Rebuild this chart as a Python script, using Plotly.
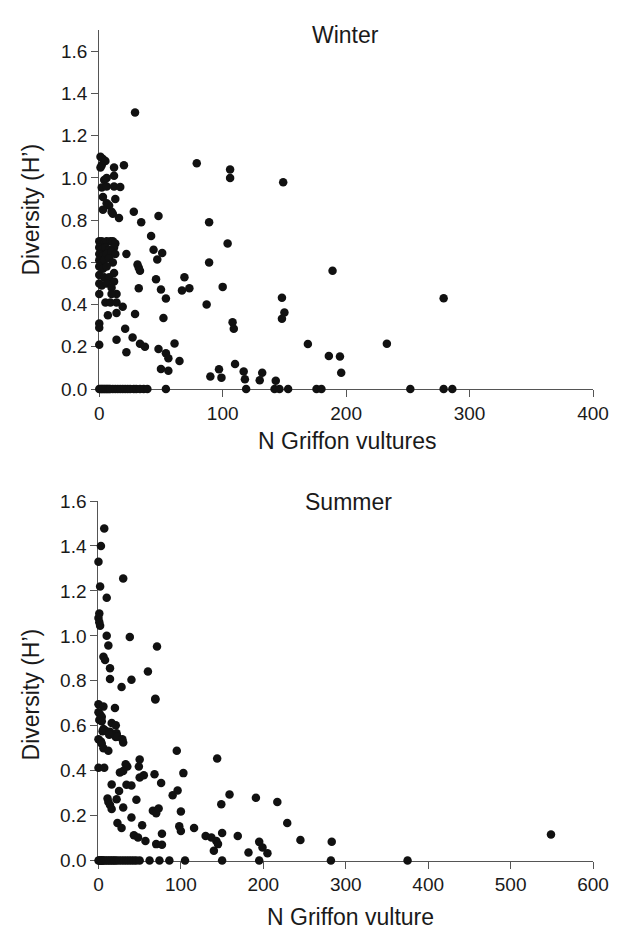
import plotly.graph_objects as go

# Winter: number of Griffon vultures vs. diversity (H')
winter_n = [
    29, 1, 3, 5, 2, 1, 12, 20,
    12, 4, 6, 2, 6, 12, 17,
    3, 6, 8, 13, 3, 10, 11,
    16, 28, 34, 48, 42,
    79, 106, 106, 149, 89, 104, 89,
    0, 1, 2, 4, 6, 9, 11, 13,
    0, 2, 5, 8, 12,
    0, 3, 6, 10, 13,
    0, 2, 4, 8, 11,
    0, 3, 6, 12,
    0, 4, 8, 12,
    0, 2, 6, 10, 14, 10,
    22, 44, 51, 47, 31, 32, 33,
    46, 69, 32, 50, 67, 73, 54, 100, 87,
    0, 5, 9, 14, 19, 7, 14, 29, 52,
    0, 0, 21, 14, 27, 0, 33, 37, 22, 48, 61, 54, 56, 65, 50, 56,
    108, 109, 148, 150, 148, 169, 189, 279, 233, 186, 195, 196,
    97, 90, 99, 110, 117, 118, 132, 130, 143,
    0, 1, 2, 3, 4, 5, 6, 7, 8, 9, 11, 13, 15, 17, 19, 21, 23, 25, 28, 30,
    33, 36, 39, 54, 119, 142, 146, 153, 176, 180, 252, 279, 286,
]
winter_h = [
    1.31, 1.10, 1.09, 1.08, 1.06, 1.05, 1.05, 1.06,
    1.01, 0.99, 1.00, 0.955, 0.96, 0.96, 0.957,
    0.91, 0.88, 0.87, 0.90, 0.85, 0.84, 0.83,
    0.81, 0.84, 0.79, 0.82, 0.725,
    1.07, 1.04, 1.00, 0.98, 0.79, 0.69, 0.60,
    0.70, 0.69, 0.70, 0.69, 0.70, 0.70, 0.70, 0.69,
    0.67, 0.66, 0.67, 0.66, 0.67,
    0.64, 0.63, 0.64, 0.65, 0.64,
    0.61, 0.60, 0.61, 0.62, 0.60,
    0.58, 0.57, 0.58, 0.55,
    0.54, 0.53, 0.53, 0.51,
    0.50, 0.49, 0.50, 0.48, 0.45, 0.45,
    0.64, 0.66, 0.645, 0.614, 0.59, 0.575, 0.56,
    0.52, 0.53, 0.478, 0.472, 0.467, 0.478, 0.429, 0.484, 0.40,
    0.45, 0.41, 0.41, 0.41, 0.39, 0.35, 0.36, 0.356, 0.336,
    0.31, 0.29, 0.285, 0.233, 0.244, 0.21, 0.215, 0.20, 0.174, 0.19, 0.216, 0.17, 0.146, 0.133, 0.095, 0.087,
    0.316, 0.285, 0.433, 0.362, 0.333, 0.213, 0.56, 0.43, 0.215, 0.156, 0.154, 0.077,
    0.094, 0.059, 0.054, 0.119, 0.083, 0.046, 0.077, 0.042, 0.039,
    0, 0, 0, 0, 0, 0, 0, 0, 0, 0, 0, 0, 0, 0, 0, 0, 0, 0, 0, 0,
    0, 0, 0, 0, 0, 0, 0, 0, 0, 0, 0, 0, 0,
]

# Summer: number of Griffon vultures vs. diversity (H')
summer_n = [
    7, 3, 0, 2, 10, 30, 1, 0, 1, 2,
    10, 12, 38, 71, 6, 8, 14, 14, 60, 40, 28, 69, 69,
    0, 6, 20, 0, 2, 4, 1, 4, 16, 21, 6, 8, 5,
    14, 22, 13, 21, 23, 29, 30, 0, 3, 4, 6, 12,
    0, 7, 95, 144, 103, 68, 76, 50, 49, 50, 55,
    33, 35, 30, 26, 16, 34, 40, 25, 46, 11, 12, 14, 16, 22, 30,
    90, 96, 159, 191, 217, 149, 66, 70, 73, 100, 40, 23, 28, 53, 229,
    98, 100, 116, 77, 43, 48, 57, 130, 137, 143, 150, 145, 140, 169, 245,
    182, 195, 199, 205, 70, 77, 283, 549,
    0, 1, 2, 3, 4, 5, 6, 8, 10, 12, 14, 16, 18, 20, 22, 25, 28, 31, 34, 37,
    40, 43, 46, 50, 62, 74, 86, 105, 150, 195, 282, 375,
]
summer_h = [
    1.478, 1.40, 1.33, 1.22, 1.17, 1.255, 1.10, 1.08, 1.06, 1.045,
    1.00, 0.957, 0.995, 0.953, 0.907, 0.892, 0.856, 0.808, 0.841, 0.805, 0.772, 0.717, 0.72,
    0.696, 0.685, 0.679, 0.66, 0.65, 0.64, 0.625, 0.62, 0.612, 0.602, 0.585, 0.58, 0.575,
    0.573, 0.566, 0.56, 0.55, 0.551, 0.54, 0.525, 0.54, 0.53, 0.52, 0.50, 0.489,
    0.413, 0.413, 0.489, 0.454, 0.389, 0.384, 0.345, 0.45, 0.418, 0.37, 0.38,
    0.428, 0.418, 0.399, 0.392, 0.338, 0.337, 0.334, 0.309, 0.27, 0.276, 0.261, 0.247, 0.229, 0.273, 0.236,
    0.29, 0.312, 0.294, 0.279, 0.261, 0.251, 0.222, 0.21, 0.232, 0.218, 0.191, 0.167, 0.145, 0.157, 0.167,
    0.152, 0.131, 0.145, 0.119, 0.113, 0.102, 0.087, 0.109, 0.102, 0.087, 0.123, 0.073, 0.044, 0.109, 0.091,
    0.036, 0.083, 0.058, 0.032, 0.073, 0.07, 0.084, 0.116,
    0, 0, 0, 0, 0, 0, 0, 0, 0, 0, 0, 0, 0, 0, 0, 0, 0, 0, 0, 0,
    0, 0, 0, 0, 0, 0, 0, 0, 0, 0, 0, 0,
]

y_ticks = [0.0, 0.2, 0.4, 0.6, 0.8, 1.0, 1.2, 1.4, 1.6]
winter_x_ticks = [0, 100, 200, 300, 400]
summer_x_ticks = [0, 100, 200, 300, 400, 500, 600]

W, H = 630, 938
FONT = "Liberation Sans, Arial, sans-serif"
INK = "#1a1a1a"
AXIS = "#555555"

def px_x(p):
    return p / W

def px_y(p):
    return 1 - p / H

marker = dict(color="#111111", size=8.5, line=dict(width=0))

fig = go.Figure()
fig.add_trace(go.Scatter(x=winter_n, y=winter_h, mode="markers", marker=marker,
                         xaxis="x", yaxis="y", cliponaxis=False, showlegend=False))
fig.add_trace(go.Scatter(x=summer_n, y=summer_h, mode="markers", marker=marker,
                         xaxis="x2", yaxis="y2", cliponaxis=False, showlegend=False))

axis_common = dict(
    showgrid=False, zeroline=False, showline=True, linecolor=AXIS, linewidth=1.3,
    ticks="outside", ticklen=7, tickwidth=1.3, tickcolor=AXIS,
    tickfont=dict(family=FONT, size=19, color=INK), layer="below traces",
    fixedrange=True,
)

fig.update_layout(
    width=W, height=H,
    margin=dict(l=0, r=0, t=0, b=0),
    paper_bgcolor="white", plot_bgcolor="white",
    xaxis=dict(axis_common, domain=[px_x(97.5), px_x(608.3)], range=[0, 400],
               tickvals=winter_x_ticks, anchor="y"),
    yaxis=dict(axis_common, domain=[px_y(387.7), px_y(20.7)], range=[0, 1.7],
               tickvals=y_ticks, tickformat=".1f", anchor="x"),
    xaxis2=dict(axis_common, domain=[px_x(96.7), px_x(608.3)], range=[0, 600],
                tickvals=summer_x_ticks, anchor="y2"),
    yaxis2=dict(axis_common, domain=[px_y(870), px_y(502.3)], range=[0, 1.6],
                tickvals=y_ticks, tickformat=".1f", anchor="x2"),
)

def label(text, x, y, angle=0):
    fig.add_annotation(text=text, x=px_x(x), y=px_y(y), xref="paper", yref="paper",
                       showarrow=False, xanchor="center", yanchor="middle",
                       textangle=angle, font=dict(family=FONT, size=23, color=INK))

label("Winter", 352, 26)
label("N Griffon vultures", 354, 441)
label("Diversity (H’)", 27, 204, angle=-90)
label("Summer", 355, 503)
label("N Griffon vulture", 357, 928)
label("Diversity (H’)", 27, 700, angle=-90)

fig.write_html("out.html")
